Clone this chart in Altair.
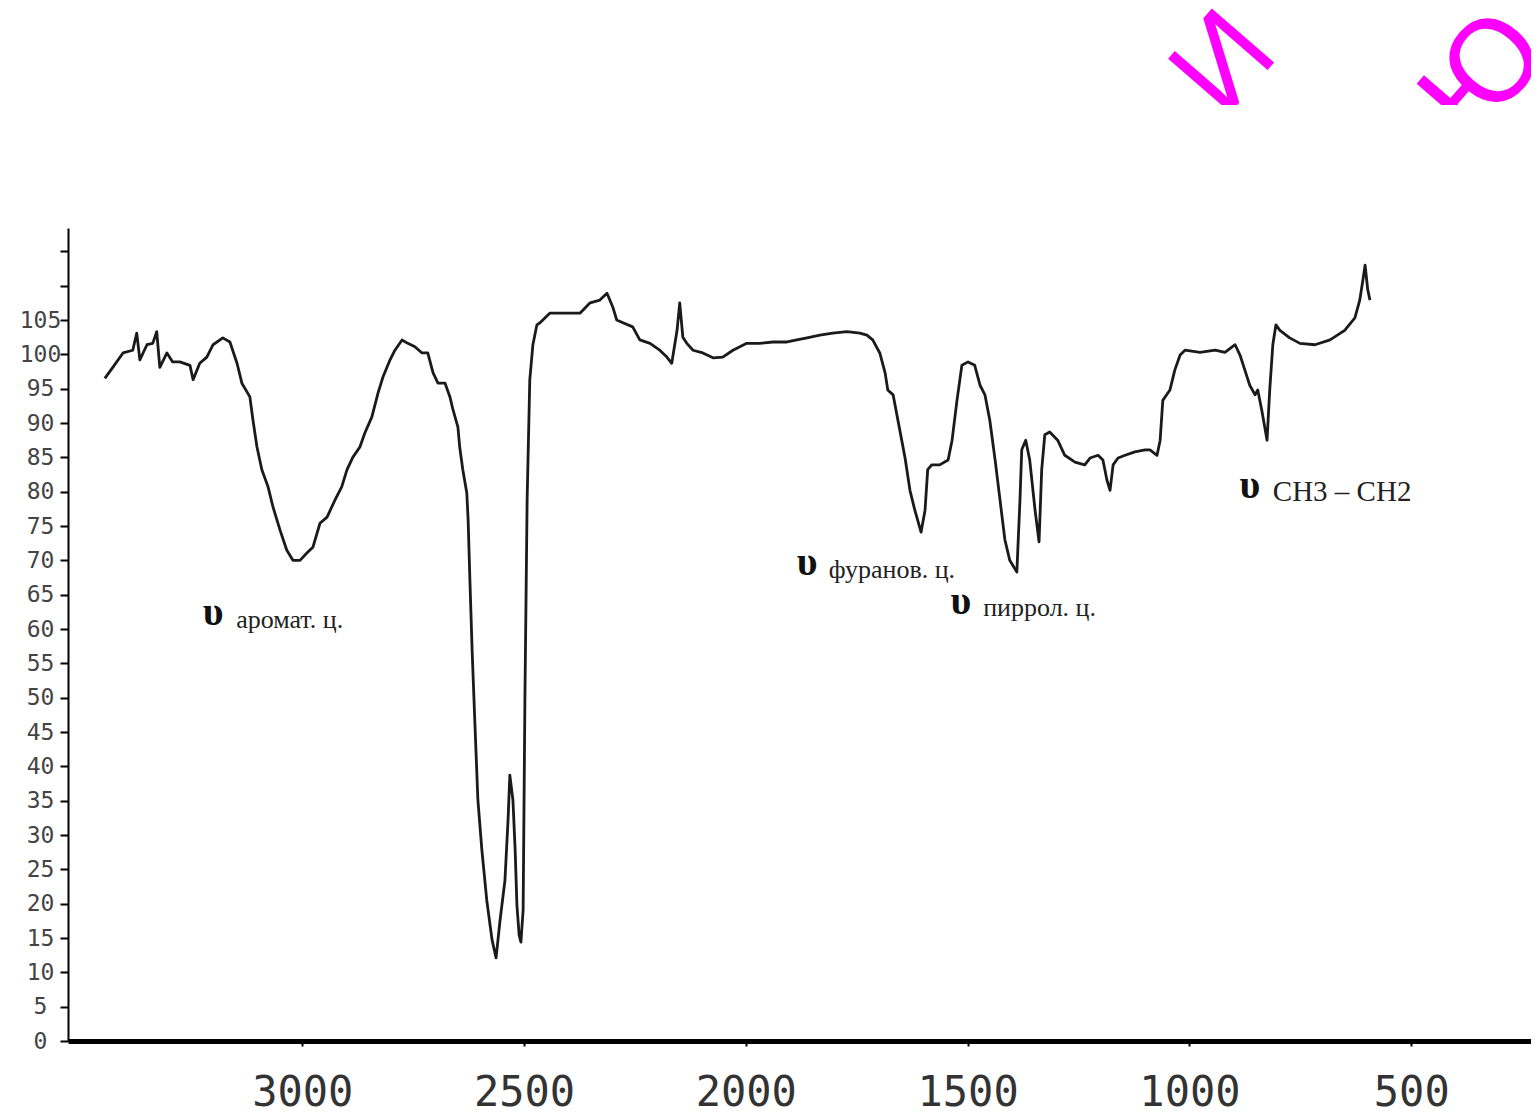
import altair as alt
import pandas as pd

# IR spectrum (wavenumber, cm-1 ; transmittance, %)
wavenumber = [3445, 3427, 3404, 3382, 3373, 3366, 3350, 3337, 3328, 3321, 3305, 3292, 3276, 3253, 3246,
              3231, 3215, 3201, 3179, 3163, 3147, 3136, 3118, 3111, 3102, 3091, 3077, 3066, 3050, 3035,
              3021, 3005, 2989, 2976, 2960, 2944, 2926, 2911, 2899, 2886, 2870, 2859, 2843, 2829, 2818,
              2802, 2791, 2775, 2762, 2746, 2730, 2717, 2705, 2694, 2678, 2667, 2660, 2649, 2645, 2638,
              2629, 2626, 2622, 2617, 2611, 2604, 2595, 2584, 2572, 2563, 2554, 2543, 2536, 2532, 2525,
              2520, 2516, 2511, 2507, 2502, 2498, 2493, 2487, 2480, 2471, 2464, 2442, 2419, 2397, 2374,
              2351, 2329, 2313, 2300, 2291, 2277, 2255, 2239, 2216, 2194, 2178, 2167, 2155, 2149, 2142,
              2133, 2119, 2097, 2074, 2052, 2029, 1998, 1968, 1939, 1907, 1885, 1862, 1833, 1804, 1772,
              1743, 1727, 1714, 1698, 1686, 1680, 1668, 1653, 1641, 1630, 1619, 1605, 1596, 1590, 1581,
              1563, 1544, 1535, 1524, 1513, 1499, 1484, 1472, 1461, 1450, 1438, 1427, 1416, 1405, 1389,
              1382, 1378, 1369, 1360, 1348, 1339, 1333, 1326, 1315, 1297, 1281, 1258, 1236, 1224, 1206,
              1195, 1186, 1179, 1172, 1161, 1145, 1123, 1100, 1089, 1073, 1066, 1060, 1044, 1033, 1021,
              1010, 976, 942, 920, 897, 886, 875, 864, 852, 846, 837, 825, 819, 812, 805,
              796, 774, 751, 717, 683, 650, 627, 616, 609, 604, 598, 593]
transmittance = [96.5, 98.1, 100.2, 100.6, 103.1, 99.2, 101.4, 101.6, 103.3, 98.1, 100.2, 98.9, 98.9, 98.4, 96.3,
                 98.7, 99.6, 101.4, 102.4, 101.8, 98.7, 95.8, 93.8, 90.4, 86.5, 83.2, 80.7, 77.8, 74.4, 71.5,
                 70.0, 70.0, 71.1, 71.9, 75.4, 76.3, 78.8, 80.7, 83.2, 85.0, 86.5, 88.5, 90.9, 94.4, 96.7,
                 99.2, 100.6, 102.1, 101.6, 101.1, 100.2, 100.2, 97.3, 95.8, 95.8, 93.8, 91.9, 89.4, 86.5, 83.2,
                 79.8, 75.9, 67.1, 56.9, 46.7, 35.1, 27.8, 20.5, 14.7, 12.1, 17.6, 23.4, 32.2, 38.7, 35.1,
                 27.8, 19.8, 15.4, 14.4, 19.1, 49.7, 78.8, 96.3, 101.4, 104.3, 104.6, 106.0, 106.0, 106.0, 106.0,
                 107.5, 107.9, 108.9, 106.9, 105.0, 104.6, 104.0, 102.1, 101.6, 100.6, 99.6, 98.7, 103.5, 107.5, 102.5,
                 101.6, 100.6, 100.2, 99.5, 99.6, 100.6, 101.6, 101.6, 101.8, 101.8, 102.1, 102.4, 102.8, 103.1, 103.3,
                 103.1, 102.8, 102.1, 100.2, 97.3, 94.8, 94.1, 89.0, 84.9, 80.2, 77.3, 74.1, 77.3, 83.2, 83.9,
                 83.9, 84.6, 87.5, 93.3, 98.4, 98.9, 98.4, 95.5, 94.1, 90.4, 84.6, 78.8, 73.0, 70.0, 68.3,
                 78.8, 86.1, 87.5, 84.6, 77.3, 72.7, 83.2, 88.3, 88.7, 87.5, 85.3, 84.3, 83.9, 84.9, 85.3,
                 84.6, 81.7, 80.2, 83.9, 84.9, 85.3, 85.8, 86.1, 86.1, 85.3, 87.5, 93.3, 94.8, 97.7, 99.9,
                 100.6, 100.3, 100.6, 100.3, 101.4, 99.9, 97.7, 95.5, 94.1, 94.8, 91.9, 87.5, 94.8, 101.4, 104.3,
                 103.5, 102.4, 101.6, 101.4, 102.1, 103.5, 105.3, 107.9, 110.8, 113.0, 109.4, 107.9]

x_ticks = [3000, 2500, 2000, 1500, 1000, 500]
y_ticks = [0, 5, 10, 15, 20, 25, 30, 35, 40, 45, 50, 55, 60, 65, 70, 75, 80, 85, 90, 95, 100, 105, 110, 115]

# band annotations
ann_text = ["аромат. ц.", "фуранов. ц.", "пиррол. ц."]
ann_wn = [3149, 1813, 1465]
ann_t = [61.3, 68.6, 63.1]
ch_text = ["CH3 – CH2"]
ch_wn = [812]
ch_t = [80.0]
ups_wn = [3201, 1862, 1515, 864]
ups_t = [62.4, 69.6, 64.0, 80.8]

spec = pd.DataFrame({"wn": wavenumber, "T": transmittance})
ann = pd.DataFrame({"wn": ann_wn, "T": ann_t, "label": ann_text})
ch = pd.DataFrame({"wn": ch_wn, "T": ch_t, "label": ch_text})
ups = pd.DataFrame({"wn": ups_wn, "T": ups_t, "label": ["υ"] * 4})

W, H = 1463, 813
xscale = alt.Scale(domain=[230, 3528], reverse=True, nice=False, zero=False)
yscale = alt.Scale(domain=[0, 118.4], nice=False, zero=True)

xaxis = alt.Axis(values=x_ticks, title=None, grid=False, format="d",
                 domainWidth=5, domainColor="black", tickSize=5, tickWidth=2, tickColor="black",
                 labelFont="DejaVu Sans Mono", labelFontSize=42, labelColor="#333",
                 labelPadding=26, labelFlush=False, labelOverlap=False)
yaxis = alt.Axis(values=y_ticks, title=None, grid=False, tickCount=24,
                 labelExpr="datum.value > 105 ? '' : datum.label",
                 domainWidth=2, domainColor="black", tickSize=8, tickWidth=2, tickColor="black",
                 labelFont="DejaVu Sans Mono", labelFontSize=23, labelColor="#444",
                 labelAlign="center", labelBaseline="middle", labelPadding=20, labelFlush=False,
                 labelOverlap=False)

X = alt.X("wn:Q", scale=xscale, axis=xaxis)
Y = alt.Y("T:Q", scale=yscale, axis=yaxis)

line = alt.Chart(spec).mark_line(color="#1a1a1a", strokeWidth=2.8, strokeJoin="round").encode(x=X, y=Y)

ann_marks = alt.Chart(ann).mark_text(font="Liberation Serif", fontSize=26, align="left",
                                     baseline="middle", color="#222").encode(x=X, y=Y, text="label:N")

ch_marks = alt.Chart(ch).mark_text(font="Liberation Serif", fontSize=29, align="left",
                                   baseline="middle", color="#222").encode(x=X, y=Y, text="label:N")

ups_marks = alt.Chart(ups).mark_text(font="Liberation Serif", fontSize=40, fontWeight="bold",
                                     align="center", baseline="middle", color="#111").encode(
    x=X, y=Y, text="label:N")

dummy = alt.Data(values=[{"a": 1}])
letter_i = alt.Chart(dummy).mark_text(text="И", font="Liberation Sans", fontSize=120, angle=311,
                                      align="center", baseline="middle", color="#FF00FF").encode(
    x=alt.value(1157), y=alt.value(-164))
letter_yu = alt.Chart(dummy).mark_text(text="Ю", font="Liberation Sans", fontSize=120, angle=311,
                                       align="center", baseline="middle", color="#FF00FF").encode(
    x=alt.value(1417), y=alt.value(-152))
mask = alt.Chart(dummy).mark_rect(color="white").encode(
    x=alt.value(1000), x2=alt.value(1480), y=alt.value(-123), y2=alt.value(-3))

chart = alt.layer(line, ann_marks, ch_marks, ups_marks, letter_i, letter_yu, mask).properties(
    width=W, height=H,
    autosize=alt.AutoSizeParams(type="none"),
    padding={"left": 60, "top": 220, "right": 0, "bottom": 76},
    background="white",
).configure_view(stroke=None)

chart.save("out.html", embed_options={"renderer": "svg", "actions": False})
